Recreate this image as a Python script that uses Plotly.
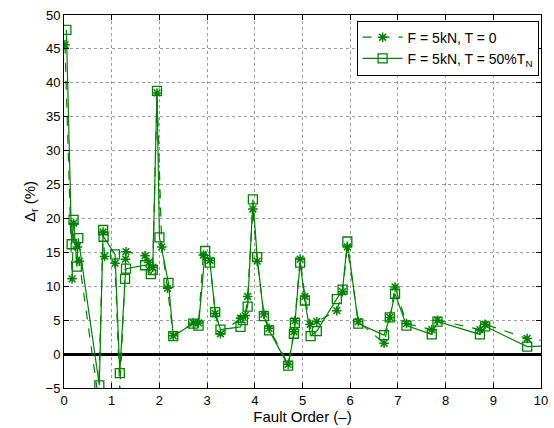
import plotly.graph_objects as go

# Series T = 0 (dashed, stars)
x_t0 = [0.02, 0.17, 0.20, 0.28, 0.32, 0.72, 0.82, 0.85, 1.07, 1.17, 1.29, 1.30, 1.70, 1.78, 1.86,
        1.95, 2.05, 2.17, 2.29, 2.71, 2.82, 2.92, 3.06, 3.17, 3.28, 3.70, 3.80, 3.85, 3.96, 4.05,
        4.19, 4.30, 4.70, 4.82, 4.84, 4.95, 5.05, 5.16, 5.30, 5.72, 5.84, 5.94, 6.17, 6.71, 6.83,
        6.94, 7.18, 7.71, 7.83, 8.72, 8.83, 9.71, 10.5]
y_t0 = [45.6, 11.1, 19.3, 15.8, 13.7, -6.5, 18.0, 14.4, 13.4, -5.5, 14.0, 15.1, 14.5, 13.5, 12.8,
        38.5, 15.8, 9.7, 2.7, 4.6, 4.6, 14.6, 13.8, 6.0, 3.0, 5.3, 5.7, 8.5, 21.4, 13.7,
        5.9, 3.8, -1.5, 3.3, 4.9, 14.0, 8.5, 4.4, 4.8, 6.4, 9.2, 15.8, 4.8, 1.6, 5.4,
        9.9, 4.5, 3.6, 5.0, 3.6, 4.4, 2.3, 1.6]

# Series T = 50% T_N (solid, squares)
x_t50 = [0.05, 0.16, 0.20, 0.27, 0.30, 0.74, 0.82, 0.83, 1.07, 1.17, 1.28, 1.30, 1.70, 1.82, 1.86,
         1.95, 2.00, 2.19, 2.29, 2.71, 2.82, 2.96, 3.06, 3.17, 3.28, 3.70, 3.75, 3.85, 3.96, 4.05,
         4.19, 4.30, 4.70, 4.82, 4.84, 4.95, 5.05, 5.17, 5.30, 5.72, 5.84, 5.94, 6.17, 6.71, 6.83,
         6.94, 7.18, 7.71, 7.83, 8.72, 8.83, 9.71, 10.5]
y_t50 = [47.8, 16.2, 19.8, 12.9, 17.1, -4.6, 18.3, 17.3, 14.7, -2.8, 11.1, 12.6, 13.1, 11.8, 12.4,
         38.8, 17.2, 10.5, 2.65, 4.5, 4.2, 15.2, 13.5, 6.2, 3.6, 4.0, 5.0, 7.0, 22.8, 14.3,
         5.6, 3.5, -1.7, 3.0, 4.6, 13.5, 7.9, 2.65, 3.4, 8.1, 9.5, 16.6, 4.5, 2.8, 5.4,
         8.9, 4.2, 2.9, 4.8, 2.9, 4.1, 1.1, 1.3]

green = "#008000"
FONT = "Liberation Sans, Arial, sans-serif"

fig = go.Figure()
fig.add_trace(go.Scatter(
    x=x_t0, y=y_t0, mode="lines+markers", name="F = 5kN, T = 0",
    line=dict(color=green, width=1.2, dash="dash"),
    marker=dict(symbol="asterisk-open", size=8, color=green, line=dict(color=green, width=1.5)),
))
fig.add_trace(go.Scatter(
    x=x_t50, y=y_t50, mode="lines+markers", name="F = 5kN, T = 50%T<sub>N</sub>",
    line=dict(color=green, width=1.2),
    marker=dict(symbol="square-open", size=9, color=green, line=dict(color=green, width=1.3)),
))

axis_common = dict(
    showline=True, linecolor="black", linewidth=1, mirror="ticks",
    ticks="inside", ticklen=5, tickcolor="black", automargin=False,
    showgrid=True, gridcolor="#9a9a9a", griddash="dot", gridwidth=1,
    tickfont=dict(family=FONT, size=13, color="black"),
)

fig.update_xaxes(range=[0, 10], dtick=1, zeroline=False,
                 title=dict(text="Fault Order (–)", font=dict(family=FONT, size=15, color="black"), standoff=0),
                 **axis_common)
fig.update_yaxes(range=[-5, 50], dtick=5, zeroline=True, zerolinecolor="black", zerolinewidth=2.5,
                 title=dict(text="Δ<sub>r</sub> (%)", font=dict(family=FONT, size=15, color="black"), standoff=6),
                 **axis_common)

fig.update_layout(
    width=554, height=428,
    margin=dict(l=64, r=13, t=15, b=40),
    paper_bgcolor="white", plot_bgcolor="white",
    showlegend=True,
    legend=dict(x=0.995, y=0.985, xanchor="right", yanchor="top",
                bordercolor="black", borderwidth=1, bgcolor="white",
                font=dict(family=FONT, size=14, color="black"),
                tracegroupgap=0, itemwidth=40),
)

fig.write_html("out.html")
